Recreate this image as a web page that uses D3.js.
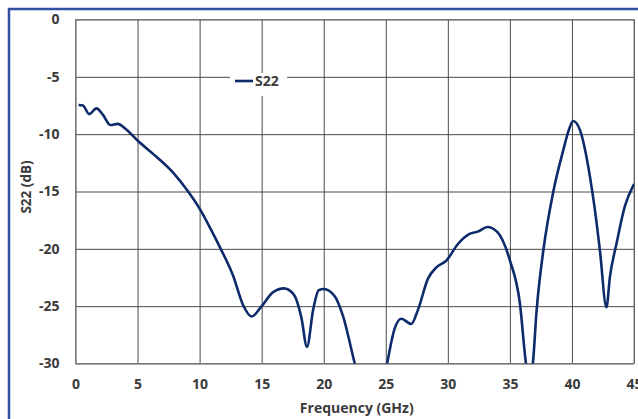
<!DOCTYPE html>
<html>
<head>
<meta charset="utf-8">
<script src="https://cdn.jsdelivr.net/npm/d3@7"></script>
<style>
  body { margin: 0; background: #fff; }
  text { font-family: "Open Sans", "Liberation Sans", sans-serif; font-weight: bold; fill: #3a3a3a; }
</style>
</head>
<body>
<svg id="chart"></svg>
<script>
// data
var freqGHz = [0.25, 0.6, 1.1, 1.7, 2.2, 2.8, 3.4, 4.0, 5.0, 6.5, 7.9, 9.0, 10.0, 11.0, 11.7, 12.7,
  13.5, 14.2, 15.0, 15.9, 16.8, 17.6, 18.2, 18.65, 19.15, 19.6, 20.0, 20.9, 21.55, 22.5, 23.5, 24.3,
  25.1, 25.7, 26.25, 27.05, 27.6, 28.4, 29.1, 29.9, 30.8, 31.75, 32.4, 33.2, 34.0, 35.0, 35.8, 36.3,
  36.55, 36.85, 37.15, 37.7, 38.5, 39.3, 39.7, 40.1, 40.65, 41.45, 41.85, 42.25, 42.78, 43.06, 43.6, 44.26, 45.0];
var s22dB = [-7.45, -7.5, -8.25, -7.75, -8.3, -9.2, -9.1, -9.5, -10.55, -11.95, -13.4, -14.9, -16.5, -18.5, -20.0, -22.35,
  -24.9, -25.9, -25.0, -23.8, -23.45, -24.0, -26.0, -28.55, -25.3, -23.6, -23.5, -24.15, -25.85, -30, -34, -34,
  -30, -27.0, -26.1, -26.55, -25.3, -22.6, -21.6, -21.0, -19.6, -18.7, -18.5, -18.1, -18.55, -21.0, -24.7, -30,
  -31.5, -30, -25.4, -20.1, -15.0, -11.4, -9.8, -8.85, -9.65, -13.7, -16.6, -20.1, -25.1, -22.45, -19.5, -16.3, -14.35];
var xTicks = [0, 5, 10, 15, 20, 25, 30, 35, 40, 45];
var yTicks = [0, -5, -10, -15, -20, -25, -30];
var seriesName = 'S22';

var W = 638, H = 419;
var margin = { top: 19.5, right: 4, bottom: 55.5, left: 75.5 },
  width = W - margin.left - margin.right,
  height = H - margin.top - margin.bottom;

var svg = d3.select('#chart').attr('width', W).attr('height', H);

// outer blue frame (right and bottom edges fall outside the picture)
svg.append('rect')
  .attr('x', 9).attr('y', 9)
  .attr('width', W + 20).attr('height', H + 20)
  .attr('fill', 'none')
  .attr('stroke', '#2f4f9f')
  .attr('stroke-width', 2.5);

var g = svg.append('g').attr('transform', 'translate(' + margin.left + ',' + margin.top + ')');

var x = d3.scaleLinear().domain([0, 45]).range([0, width]);
var y = d3.scaleLinear().domain([-30, 0]).range([height, 0]);
var fmt = function (d) { return String(d); }; // plain hyphen minus like the original

// grid
g.append('g')
  .attr('transform', 'translate(0,' + height + ')')
  .call(d3.axisBottom(x).tickValues(xTicks).tickSize(-height).tickFormat(''))
  .call(function (a) { a.select('.domain').remove(); })
  .selectAll('line').attr('stroke', '#4a4a4a');
g.append('g')
  .call(d3.axisLeft(y).tickValues(yTicks).tickSize(-width).tickFormat(''))
  .call(function (a) { a.select('.domain').remove(); })
  .selectAll('line').attr('stroke', '#4a4a4a');
g.append('rect')
  .attr('width', width).attr('height', height)
  .attr('fill', 'none').attr('stroke', '#7a7a7a');

// tick labels
g.append('g')
  .attr('transform', 'translate(0,' + height + ')')
  .call(d3.axisBottom(x).tickValues(xTicks).tickSize(0).tickPadding(16).tickFormat(fmt))
  .call(function (a) { a.select('.domain').remove(); })
  .selectAll('text').style('font-size', '14px').attr('fill', '#3a3a3a');
g.append('g')
  .call(d3.axisLeft(y).tickValues(yTicks).tickSize(0).tickPadding(16).tickFormat(fmt))
  .call(function (a) { a.select('.domain').remove(); })
  .selectAll('text').style('font-size', '14px').attr('fill', '#3a3a3a');

// axis titles
svg.append('text')
  .attr('x', margin.left + width / 2 + 2).attr('y', 413)
  .attr('text-anchor', 'middle').style('font-size', '14px')
  .text('Frequency (GHz)');
svg.append('text')
  .attr('transform', 'translate(31,' + 187 + ') rotate(-90)')
  .attr('text-anchor', 'middle').style('font-size', '13.5px')
  .text('S22 (dB)');

// curve
g.append('clipPath').attr('id', 'plotclip')
  .append('rect').attr('width', width).attr('height', height);

var pts = freqGHz.map(function (f, i) { return [f, s22dB[i]]; });
var line = d3.line()
  .x(function (d) { return x(d[0]); })
  .y(function (d) { return y(d[1]); })
  .curve(d3.curveMonotoneX);

g.append('path')
  .datum(pts)
  .attr('clip-path', 'url(#plotclip)')
  .attr('d', line)
  .attr('fill', 'none')
  .attr('stroke', '#0d2a6b')
  .attr('stroke-width', 2.6);

// legend
var lg = svg.append('g').attr('transform', 'translate(230,73)');
lg.append('rect').attr('width', 57).attr('height', 23).attr('fill', '#fff');
lg.append('line').attr('x1', 5).attr('x2', 23).attr('y1', 8).attr('y2', 8)
  .attr('stroke', '#0d2a6b').attr('stroke-width', 2.6);
lg.append('text').attr('x', 25).attr('y', 13).style('font-size', '14px').text(seriesName);
</script>
</body>
</html>
